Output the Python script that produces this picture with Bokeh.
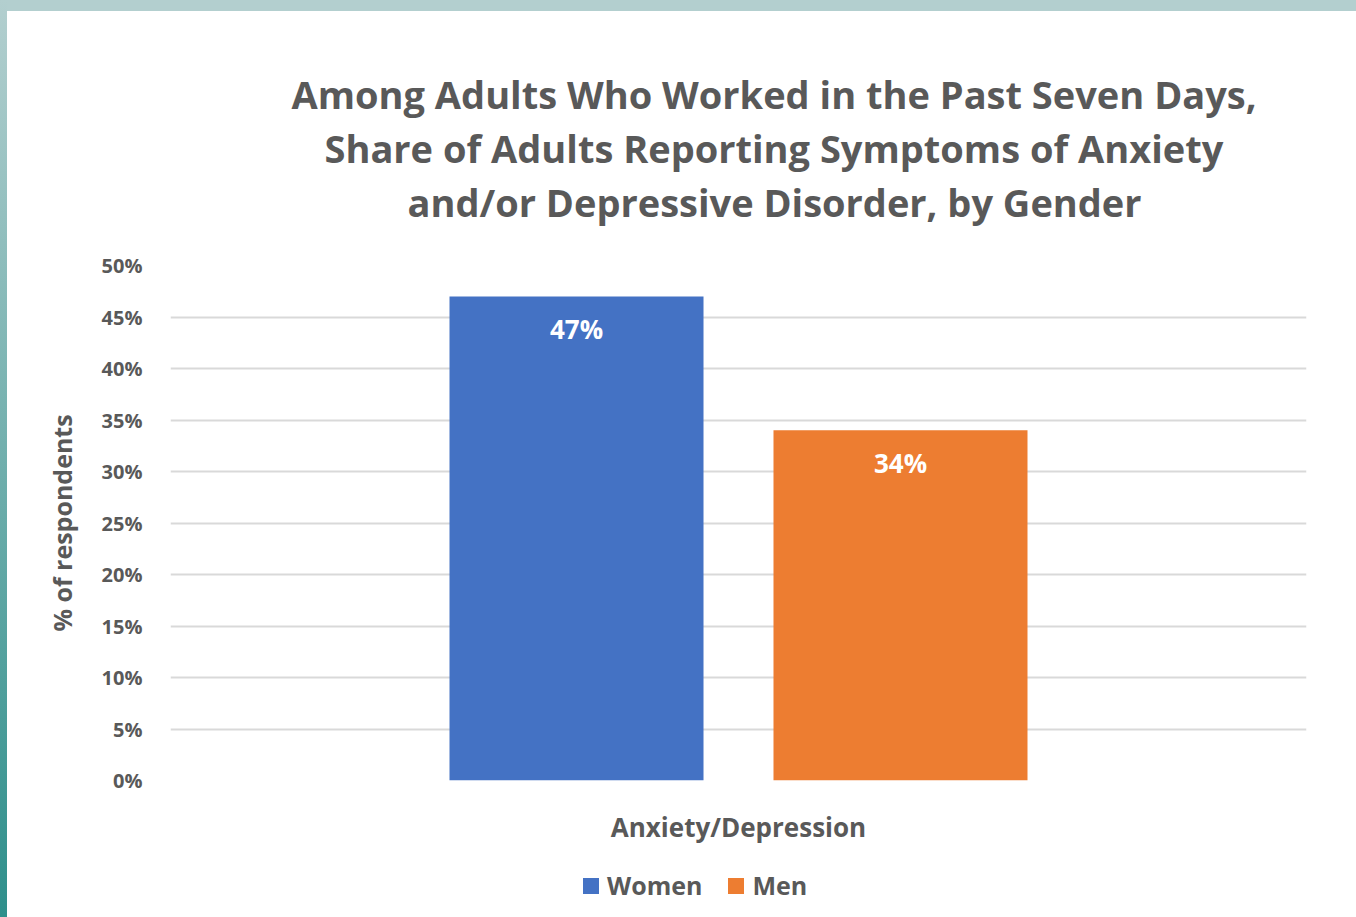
from bokeh.plotting import figure
from bokeh.models import (ColumnDataSource, FactorRange, Range1d, PrintfTickFormatter,
                          Title, SingleIntervalTicker, Div)
from bokeh.transform import dodge
from bokeh.layouts import column
from bokeh.core.properties import value
from bokeh.embed import file_html
from bokeh.resources import INLINE

# Data
categories = ["Anxiety/Depression"]
women = [47]
men = [34]
series_names = ["Women", "Men"]
title_lines = [
    "Among Adults Who Worked in the Past Seven Days,",
    "Share of Adults Reporting Symptoms of Anxiety",
    "and/or Depressive Disorder, by Gender",
]
# left offset of each title line so the block is centred a little right of the frame centre
title_offsets = [121, 154, 237]

FONT = "Open Sans"
GRAY = "#595959"
BLUE = "#4472c4"
ORANGE = "#ed7d31"
colors = [BLUE, ORANGE]

source = ColumnDataSource(dict(
    cat=categories,
    women=women,
    men=men,
    women_lbl=[f"{v}%" for v in women],
    men_lbl=[f"{v}%" for v in men],
))

# ---- main chart -------------------------------------------------------------
p = figure(
    width=1349, height=839,
    x_range=FactorRange(factors=categories, range_padding=0),
    y_range=Range1d(0, 50),
    output_backend="svg", toolbar_location=None,
    min_border_left=163, min_border_right=50,
    min_border_top=254, min_border_bottom=70,
)
p.margin = (11, 0, 0, 7)
p.outline_line_color = None
p.background_fill_color = "white"
p.border_fill_color = "white"

# spacer between the frame and the title block
p.add_layout(Title(text=" ", text_font_size="8px", standoff=27), "above")
# Title: one line per Title; the first added sits nearest the frame
for line, offs in zip(reversed(title_lines), reversed(title_offsets)):
    p.add_layout(Title(
        text=line, align="left", text_font=FONT, text_font_style="bold",
        text_font_size="38px", text_color=GRAY, offset=offs, standoff=0,
    ), "above")

bw = 0.2236
off = 0.1426
p.vbar(x=dodge("cat", -off, range=p.x_range), top="women", width=bw,
       source=source, fill_color=BLUE, line_color=None)
p.vbar(x=dodge("cat", off, range=p.x_range), top="men", width=bw,
       source=source, fill_color=ORANGE, line_color=None)

# Value labels inside bar tops
for col, lbl, dx in (("women", "women_lbl", -off), ("men", "men_lbl", off)):
    p.text(x=dodge("cat", dx, range=p.x_range), y=col, text=lbl, source=source,
           text_align="center", text_baseline="middle", y_offset=33,
           text_font=value(FONT), text_font_style="bold",
           text_font_size="26px", text_color="white")

# Axes
p.yaxis.ticker = SingleIntervalTicker(interval=5)
p.yaxis.formatter = PrintfTickFormatter(format="%d%%")
p.yaxis.axis_line_color = None
p.yaxis.major_tick_line_color = None
p.yaxis.minor_tick_line_color = None
p.yaxis.major_label_text_font = FONT
p.yaxis.major_label_text_font_style = "bold"
p.yaxis.major_label_text_font_size = "20px"
p.yaxis.major_label_text_color = GRAY
p.yaxis.major_label_standoff = 22
p.yaxis.axis_label = "% of respondents"
p.yaxis.axis_label_text_font = FONT
p.yaxis.axis_label_text_font_style = "bold"
p.yaxis.axis_label_text_font_size = "25px"
p.yaxis.axis_label_text_color = GRAY
p.yaxis.axis_label_standoff = 20

p.xaxis.axis_line_color = None
p.xaxis.major_tick_line_color = None
p.xaxis.minor_tick_line_color = None
p.xaxis.major_label_text_font = FONT
p.xaxis.major_label_text_font_style = "bold"
p.xaxis.major_label_text_font_size = "26px"
p.xaxis.major_label_text_color = GRAY
p.xaxis.major_label_standoff = 22

p.xgrid.grid_line_color = None
p.ygrid.grid_line_color = "#d9d9d9"
p.ygrid.grid_line_width = 2

# ---- legend strip underneath ------------------------------------------------
swatch_css = "display:inline-block;width:16px;height:16px;background:{c};margin:0 8px 0 {ml}px;"
entries = "".join(
    f'<span style="{swatch_css.format(c=c, ml=(0 if i == 0 else 26))}"></span>'
    f'<span>{name}</span>'
    for i, (name, c) in enumerate(zip(series_names, colors))
)
legend_html = (
    '<div style="display:flex;align-items:center;height:67px;box-sizing:border-box;'
    'padding:4px 0 0 576px;font-family:\'Open Sans\';font-weight:bold;'
    f'font-size:25px;color:{GRAY};background:#ffffff;">{entries}</div>'
)
legend_div = Div(text=legend_html, width=1349, height=67, margin=(0, 0, 0, 7),
                 styles={"background-color": "#ffffff"})

page = column(
    p, legend_div, spacing=0,
    styles={"background": "linear-gradient(to bottom, #b3cfcf 0%, #2e8f8b 100%) 0 0 / 7px 100% no-repeat, "
                          "linear-gradient(#b3cfcf, #b3cfcf) 0 0 / 100% 11px no-repeat, #ffffff"},
)

open("out.html", "w").write(file_html(page, INLINE))
